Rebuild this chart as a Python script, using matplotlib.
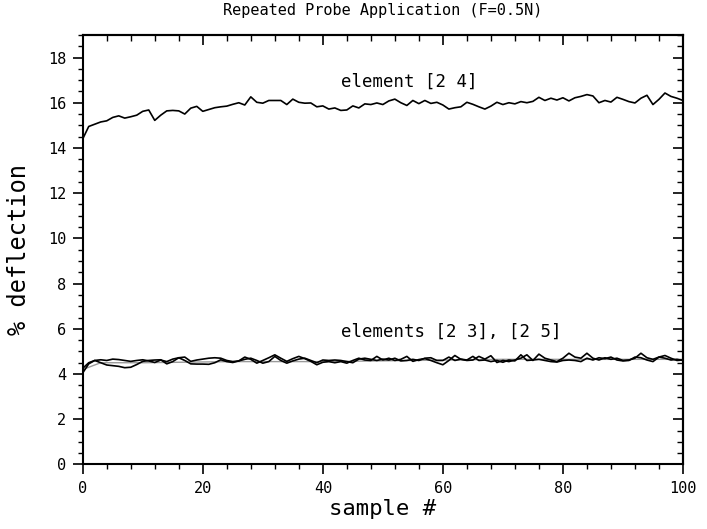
import matplotlib
matplotlib.use("Agg")
import matplotlib.pyplot as plt
from matplotlib.ticker import MultipleLocator

# data (sample # 0..100)
samples = list(range(0, 101))

element_24 = [
    14.4, 14.95, 15.05, 15.15, 15.2, 15.35, 15.42, 15.32, 15.38, 15.45,
    15.62, 15.68, 15.22, 15.45, 15.64, 15.66, 15.64, 15.5, 15.76, 15.84,
    15.62, 15.7, 15.78, 15.82, 15.85, 15.93, 16.0, 15.9, 16.26, 16.02,
    15.98, 16.1, 16.1, 16.1, 15.92, 16.16, 16.02, 15.98, 15.99, 15.82,
    15.86, 15.72, 15.77, 15.66, 15.68, 15.86, 15.77, 15.95, 15.92, 15.99,
    15.92, 16.08, 16.16, 16.0, 15.88, 16.1, 15.96, 16.1, 15.97, 16.02,
    15.9, 15.72, 15.78, 15.82, 16.02, 15.93, 15.82, 15.72, 15.85, 16.02,
    15.92, 16.0, 15.95, 16.05, 16.0, 16.06, 16.24, 16.1, 16.2, 16.12,
    16.22, 16.08, 16.22, 16.28, 16.36, 16.3, 16.0, 16.1, 16.03, 16.24,
    16.15, 16.05, 15.99, 16.2, 16.33, 15.92, 16.15, 16.43, 16.28, 16.2,
    16.1,
]

element_23 = [
    4.25, 4.5, 4.6, 4.63, 4.6, 4.66, 4.64, 4.6, 4.56, 4.6,
    4.63, 4.58, 4.51, 4.62, 4.55, 4.66, 4.72, 4.6, 4.45, 4.44,
    4.44, 4.43, 4.5, 4.63, 4.55, 4.51, 4.58, 4.75, 4.65, 4.48,
    4.6, 4.72, 4.85, 4.7, 4.56, 4.68, 4.78, 4.68, 4.56, 4.41,
    4.52, 4.55, 4.5, 4.55, 4.48, 4.6, 4.7, 4.62, 4.6, 4.78,
    4.62, 4.7, 4.6, 4.65, 4.78, 4.56, 4.64, 4.68, 4.6, 4.5,
    4.41, 4.6, 4.82, 4.65, 4.6, 4.62, 4.78, 4.66, 4.81, 4.51,
    4.6, 4.55, 4.62, 4.7, 4.85, 4.6, 4.88, 4.7, 4.62, 4.55,
    4.7, 4.92, 4.75, 4.7, 4.92, 4.7, 4.62, 4.72, 4.65, 4.7,
    4.6, 4.62, 4.7, 4.92, 4.72, 4.65, 4.75, 4.7, 4.62, 4.65,
    4.6,
]

element_25 = [
    4.05, 4.45, 4.6, 4.5, 4.4, 4.37, 4.34, 4.28, 4.3, 4.42,
    4.56, 4.6, 4.62, 4.63, 4.45, 4.55, 4.72, 4.75, 4.56, 4.62,
    4.66, 4.7, 4.72, 4.7, 4.6, 4.55, 4.58, 4.65, 4.7, 4.6,
    4.48, 4.55, 4.78, 4.6, 4.48, 4.58, 4.66, 4.7, 4.6, 4.5,
    4.62, 4.6, 4.62, 4.6, 4.55, 4.5, 4.66, 4.7, 4.65, 4.6,
    4.66, 4.62, 4.7, 4.58, 4.6, 4.65, 4.6, 4.7, 4.72, 4.6,
    4.6, 4.75, 4.6, 4.66, 4.62, 4.78, 4.6, 4.62, 4.55, 4.6,
    4.52, 4.62, 4.58, 4.85, 4.6, 4.62, 4.65, 4.6, 4.55, 4.53,
    4.6, 4.62, 4.6, 4.55, 4.7, 4.62, 4.72, 4.68, 4.75, 4.62,
    4.58, 4.6, 4.75, 4.72, 4.62, 4.55, 4.75, 4.82, 4.7, 4.6,
    4.62,
]

# faint grey trace under the two lower curves
grey_x = [0, 3, 10, 25, 40, 55, 70, 100]
grey_y = [4.2, 4.5, 4.5, 4.55, 4.55, 4.6, 4.65, 4.65]

mono = "DejaVu Sans Mono"

fig = plt.figure(figsize=(7.07, 5.29), dpi=100)
ax = fig.add_axes([0.117, 0.122, 0.849, 0.812])

ax.plot(grey_x, grey_y, color="#9a9a9a", lw=1.0)
ax.plot(samples, element_23, color="black", lw=1.2)
ax.plot(samples, element_25, color="black", lw=1.2)
ax.plot(samples, element_24, color="black", lw=1.2)

ax.set_xlim(0, 100)
ax.set_ylim(0, 19)

ax.xaxis.set_major_locator(MultipleLocator(20))
ax.xaxis.set_minor_locator(MultipleLocator(4))
ax.yaxis.set_major_locator(MultipleLocator(2))
ax.yaxis.set_minor_locator(MultipleLocator(0.5))
ax.set_yticks(range(0, 19, 2))

ax.tick_params(which="major", direction="out", length=7, width=1.2,
               labelsize=11, pad=5)
ax.tick_params(which="minor", direction="out", length=3.5, width=1.0)
for lab in ax.get_xticklabels() + ax.get_yticklabels():
    lab.set_family(mono)

# top and right edges get inward ticks, no labels
top = ax.secondary_xaxis("top")
top.xaxis.set_major_locator(MultipleLocator(20))
top.xaxis.set_minor_locator(MultipleLocator(4))
top.tick_params(which="major", direction="in", length=7, width=1.2, labeltop=False)
top.tick_params(which="minor", direction="in", length=4, width=1.0)

right = ax.secondary_yaxis("right")
right.yaxis.set_major_locator(MultipleLocator(2))
right.yaxis.set_minor_locator(MultipleLocator(0.5))
right.tick_params(which="major", direction="in", length=7, width=1.2, labelright=False)
right.tick_params(which="minor", direction="in", length=4, width=1.0)

for sp in ax.spines.values():
    sp.set_linewidth(1.5)
top.spines["top"].set_linewidth(1.5)
right.spines["right"].set_linewidth(1.5)

ax.set_title("Repeated Probe Application (F=0.5N)", family=mono, fontsize=11, pad=14)
ax.set_xlabel("sample #", family=mono, fontsize=16, labelpad=2)
ax.set_ylabel("% deflection", family=mono, fontsize=17, labelpad=12)

ax.text(43, 16.95, "element [2 4]", family=mono, fontsize=12.5, va="center")
ax.text(43, 5.85, "elements [2 3], [2 5]", family=mono, fontsize=12.5, va="center")

fig.savefig("out.png", dpi=100)
